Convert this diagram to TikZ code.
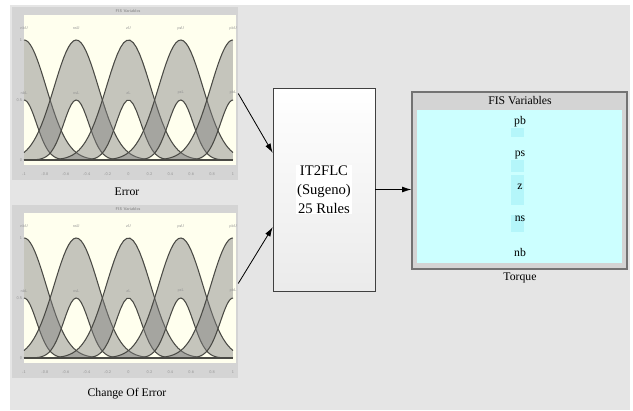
\documentclass[tikz,border=0pt]{standalone}
\usepackage{fontspec}
\setmainfont{Liberation Serif}
\usetikzlibrary{arrows.meta,positioning,fit,calc}

\definecolor{bggray}{HTML}{E5E5E5}
\definecolor{framegray}{HTML}{D4D4D4}
\definecolor{cream}{HTML}{FFFFEE}
\definecolor{curvegray}{HTML}{4A4A45}
\definecolor{fiscyan}{HTML}{CCFFFF}
\definecolor{hicyan}{HTML}{B4F6FA}

\tikzset{
  fou/.style={fill=gray, fill opacity=0.45},
  mfline/.style={draw=curvegray, line width=0.9pt},
  tinytext/.style={font=\fontsize{3.5}{4}\selectfont\sffamily, text=gray!85, inner sep=0.5pt},
  caption/.style={font=\fontsize{10}{12}\selectfont, inner sep=1pt},
  flow/.style={-{Latex[length=8pt,width=5pt]}, line width=0.7pt},
}

% membership function plot, #1 = vertical offset, #2 = name
\newcommand{\mfplot}[2]{%
  \node[fit={(12,#1+7)(238,#1+180)}, inner sep=0pt, fill=framegray] (#2) {};
  \fill[cream] (24,#1+15) rectangle (236,#1+165);
  \node[tinytext, font=\fontsize{3.5}{4}\selectfont\sffamily\bfseries] (#2title) at (128,#1+11) {FIS Variables};
  \begin{scope}[shift={(128.5,#1+160)}, xscale=104.5, yscale=-120]
    \foreach \c in {-1,-0.5,0,0.5,1}{
      \pgfmathsetmacro\lo{max(-1,\c-0.9)}
      \pgfmathsetmacro\hi{min(1,\c+0.9)}
      \fill[fou] plot[domain=\lo:\hi, samples=60] (\x,{exp(((\x-(\c))^2)/(-0.0901))})
        -- plot[domain=\hi:\lo, samples=60] (\x,{0.5*exp(((\x-(\c))^2)/(-0.0288))}) -- cycle;
      \draw[mfline] plot[domain=\lo:\hi, samples=60] (\x,{exp(((\x-(\c))^2)/(-0.0901))});
      \draw[mfline] plot[domain=\lo:\hi, samples=60] (\x,{0.5*exp(((\x-(\c))^2)/(-0.0288))});
    }
    \draw[curvegray, line width=1.6pt] (-1,0) -- (1,0);
    \foreach \c/\n in {-1/nb,-0.5/ns,0/z,0.5/ps,1/pb}{
      \node[tinytext] (#2u\n) at (\c,1.1) {\n U};
      \node[tinytext] (#2l\n) at (\c,0.56) {\n L};
    }
    \foreach \t in {-1,-0.8,-0.6,-0.4,-0.2,0,0.2,0.4,0.6,0.8,1}{
      \node[tinytext] (#2x\t) at (\t,-0.117) {\t};
    }
    \foreach \v in {0,0.5,1}{
      \node[tinytext, anchor=east] (#2y\v) at (-1.01,\v) {\v};
    }
  \end{scope}
}

\begin{document}
\begin{tikzpicture}[x=0.03cm, y=-0.03cm]
\useasboundingbox (0,0) rectangle (633,410);
\fill[white] (0,0) rectangle (633,410);
\fill[bggray] (10,5) rectangle (630,410);

\mfplot{0}{err}
\node[caption] (errcap) at (127,192) {Error};
\mfplot{198}{derr}
\node[caption] (derrcap) at (127,394) {Change Of Error};

\node[fit={(273,88)(375,291)}, inner sep=0pt, draw=black!75, line width=0.5pt,
  top color=white, bottom color=black!8] (flc) {};
\node[fill=white, inner sep=1pt, align=center, font=\fontsize{12.5}{16}\selectfont] (flctext) at (flc.center) {IT2FLC\\(Sugeno)\\25 Rules};

\node[fit={(412,92)(627,269)}, inner sep=0pt, fill=framegray, draw=black!55, line width=1pt] (fisout) {};
\fill[fiscyan] (417,110) rectangle (622,263);
\node[caption] (fistitle) at (520,101) {FIS Variables};
\foreach \n/\y/\a/\b in {pb/122/6/15,ps/155/5/17,z/187/-12/18,ns/219/-4/13}{
  \fill[hicyan] (511,\y+\a) rectangle (524,\y+\b);
}
\foreach \n/\y in {pb/122,ps/155,z/187,ns/219,nb/252}{
  \node[caption] (out\n) at (520,\y) {\n};
}
\node[caption] (torque) at (520,278) {Torque};

\coordinate (in1) at ($(flc.north west)!0.32!(flc.south west)$);
\coordinate (in2) at ($(flc.north west)!0.685!(flc.south west)$);
\draw[flow] (err.east) -- (in1);
\draw[flow] ($(derr.east)+(0,-8)$) -- (in2);
\draw[flow] (flc.east) -- (flc.east -| fisout.west);
\end{tikzpicture}
\end{document}
